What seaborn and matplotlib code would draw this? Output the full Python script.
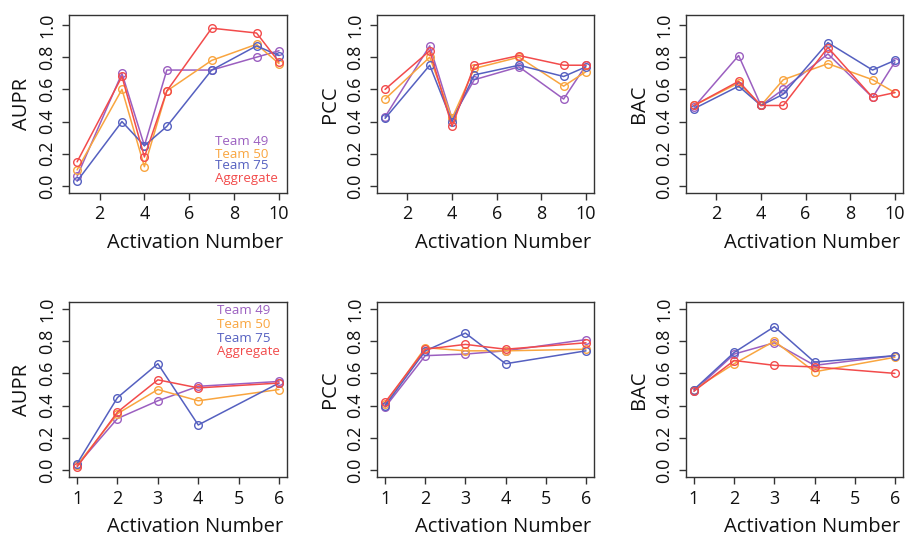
import numpy as np
import pandas as pd
import matplotlib
matplotlib.use("Agg")
import matplotlib.pyplot as plt
import seaborn as sns

# ---------------- data ----------------
teams = ["Team 49", "Team 50", "Team 75", "Aggregate"]
colors = ["#9B5FC0", "#F9A53F", "#5560C0", "#F24B4B"]

x_top = [1, 3, 4, 5, 7, 9, 10]
x_bot = [1, 2, 3, 4, 6]

top_aupr = {
    "Team 49":   [0.06, 0.70, 0.25, 0.72, 0.72, 0.80, 0.84],
    "Team 50":   [0.10, 0.60, 0.12, 0.59, 0.78, 0.88, 0.76],
    "Team 75":   [0.03, 0.40, 0.25, 0.37, 0.72, 0.87, 0.81],
    "Aggregate": [0.15, 0.68, 0.18, 0.59, 0.98, 0.95, 0.77],
}
top_pcc = {
    "Team 49":   [0.43, 0.87, 0.42, 0.66, 0.74, 0.54, 0.75],
    "Team 50":   [0.54, 0.80, 0.42, 0.73, 0.80, 0.62, 0.71],
    "Team 75":   [0.42, 0.75, 0.40, 0.69, 0.75, 0.68, 0.74],
    "Aggregate": [0.60, 0.84, 0.37, 0.75, 0.81, 0.75, 0.75],
}
top_bac = {
    "Team 49":   [0.49, 0.81, 0.50, 0.60, 0.82, 0.55, 0.77],
    "Team 50":   [0.50, 0.64, 0.50, 0.66, 0.76, 0.66, 0.58],
    "Team 75":   [0.48, 0.62, 0.50, 0.57, 0.89, 0.72, 0.78],
    "Aggregate": [0.50, 0.65, 0.50, 0.50, 0.86, 0.55, 0.58],
}
bot_aupr = {
    "Team 49":   [0.03, 0.32, 0.43, 0.52, 0.55],
    "Team 50":   [0.03, 0.35, 0.50, 0.43, 0.50],
    "Team 75":   [0.04, 0.45, 0.66, 0.28, 0.54],
    "Aggregate": [0.02, 0.36, 0.56, 0.51, 0.54],
}
bot_pcc = {
    "Team 49":   [0.39, 0.71, 0.72, 0.74, 0.81],
    "Team 50":   [0.41, 0.76, 0.74, 0.74, 0.75],
    "Team 75":   [0.40, 0.74, 0.85, 0.66, 0.74],
    "Aggregate": [0.42, 0.75, 0.78, 0.75, 0.79],
}
bot_bac = {
    "Team 49":   [0.49, 0.72, 0.79, 0.65, 0.71],
    "Team 50":   [0.50, 0.66, 0.80, 0.61, 0.70],
    "Team 75":   [0.50, 0.73, 0.89, 0.67, 0.71],
    "Aggregate": [0.49, 0.68, 0.65, 0.64, 0.60],
}

y_ticks = [0.0, 0.2, 0.4, 0.6, 0.8, 1.0]
y_ticklabels = ["0.0", "0.2", "0.4", "0.6", "0.8", "1.0"]
top_xticks = [2, 4, 6, 8, 10]
bot_xticks = [1, 2, 3, 4, 5, 6]
xlabel = "Activation Number"

# ---------------- style ----------------
sns.set_style("ticks")
plt.rcParams["font.family"] = ["Open Sans", "DejaVu Sans"]
plt.rcParams["axes.edgecolor"] = "#333333"
plt.rcParams["axes.linewidth"] = 1.0
plt.rcParams["text.color"] = "#111111"
plt.rcParams["axes.labelcolor"] = "#111111"
plt.rcParams["xtick.color"] = "#111111"
plt.rcParams["ytick.color"] = "#111111"

fig = plt.figure(figsize=(9.07, 5.37), dpi=100)

cols_x = [0.0761, 0.4157, 0.7563]
widths = [0.2404, 0.2392, 0.2392]
top_y, top_h = 0.6406, 0.3315
bot_y, bot_h = 0.1117, 0.3259

panels = [
    (0, top_aupr, x_top, top_xticks, "AUPR", (0.64, 10.36), (-0.0435, 1.062), top_y, top_h),
    (1, top_pcc, x_top, top_xticks, "PCC", (0.64, 10.36), (-0.0435, 1.062), top_y, top_h),
    (2, top_bac, x_top, top_xticks, "BAC", (0.64, 10.36), (-0.0435, 1.062), top_y, top_h),
    (0, bot_aupr, x_bot, bot_xticks, "AUPR", (0.8, 6.2), (-0.043, 1.043), bot_y, bot_h),
    (1, bot_pcc, x_bot, bot_xticks, "PCC", (0.8, 6.2), (-0.043, 1.043), bot_y, bot_h),
    (2, bot_bac, x_bot, bot_xticks, "BAC", (0.8, 6.2), (-0.043, 1.043), bot_y, bot_h),
]

axes = []
for col, data, xs, xt, ylab, xl, yl, y0, h in panels:
    ax = fig.add_axes([cols_x[col], y0, widths[col], h])
    rows = []
    for t in teams:
        for xv, yv in zip(xs, data[t]):
            rows.append({"x": xv, "y": yv, "team": t})
    df = pd.DataFrame(rows)
    sns.lineplot(data=df, x="x", y="y", hue="team", hue_order=teams,
                 palette=colors, marker="o", markersize=5.5, linewidth=1.1,
                 legend=False, ax=ax, sort=False)
    for ln in ax.lines:
        ln.set_markerfacecolor("none")
        ln.set_markeredgecolor(ln.get_color())
        ln.set_markeredgewidth(1.0)
    ax.set_xlim(*xl)
    ax.set_ylim(*yl)
    ax.set_xticks(xt)
    ax.set_yticks(y_ticks)
    ax.set_yticklabels(y_ticklabels, rotation=90, va="center")
    ax.tick_params(axis="both", which="major", length=5, width=1.0,
                   labelsize=13, pad=4, color="#333333")
    ax.set_xlabel(xlabel, fontsize=14.5, labelpad=7)
    ax.xaxis.label.set_x(0.58)
    ax.set_ylabel(ylab, fontsize=14.5, labelpad=5)
    for s in ax.spines.values():
        s.set_visible(True)
    axes.append(ax)

# text legends (colored labels)
leg_specs = [
    (axes[0], 0.67, [0.287, 0.219, 0.152, 0.079]),
    (axes[3], 0.68, [0.954, 0.869, 0.794, 0.720]),
]
for ax, lx, lys in leg_specs:
    for t, c, ly in zip(teams, colors, lys):
        ax.text(lx, ly, t, color=c, fontsize=9.5, transform=ax.transAxes,
                ha="left", va="center")

fig.savefig("out.png", dpi=100)
